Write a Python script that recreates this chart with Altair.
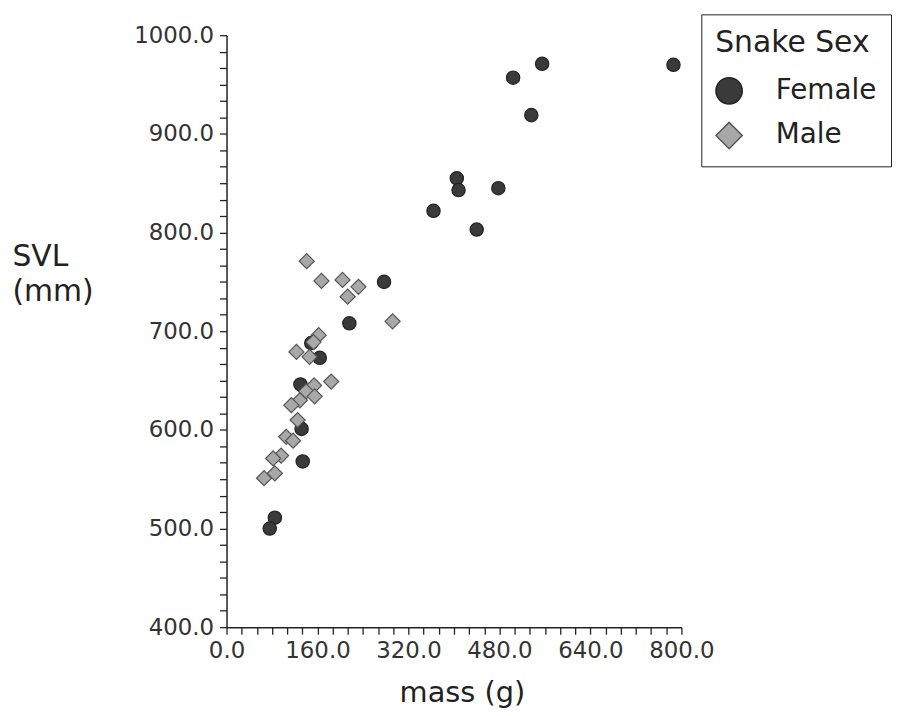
import altair as alt
import pandas as pd

# Values
female_mass = [786, 555, 504, 536, 405, 408, 478, 364, 440, 277, 216, 164, 149, 130, 132, 134, 85, 76]
female_svl = [970, 971, 957, 919, 855, 843, 845, 822, 803, 750, 708, 673, 688, 646, 601, 568, 511, 500]

male_mass = [141, 167, 204, 232, 213, 292, 162, 153, 123, 146, 184, 154, 140, 155, 129, 114, 125, 105, 117, 96, 82, 85, 66]
male_svl = [771, 751, 752, 745, 735, 710, 696, 689, 679, 674, 649, 645, 639, 634, 630, 625, 610, 593, 589, 574, 571, 556, 551]

sex_labels = ["Female", "Male"]

df = pd.DataFrame({
    "mass": female_mass + male_mass,
    "svl": female_svl + male_svl,
    "sex": [sex_labels[0]] * len(female_mass) + [sex_labels[1]] * len(male_mass),
})

x_ticks = [i * 160 / 6 for i in range(31)]
y_ticks = [400 + i * 100 / 6 for i in range(37)]

FONT = "DejaVu Sans"

x_axis = alt.Axis(
    values=x_ticks,
    labelExpr="datum.value % 160 == 0 ? format(datum.value, '.1f') : ''",
    title="mass (g)",
    grid=False,
    domainColor="#222222", domainWidth=1.5,
    tickColor="#222222", tickWidth=1.3, tickSize=7,
    labelFont=FONT, labelFontSize=23, labelColor="#333333", labelPadding=6,
    labelOverlap=False, labelFlush=False,
    titleFont=FONT, titleFontSize=29, titleFontWeight="normal", titleColor="#222222",
    titleBaseline="alphabetic", titleY=75, titleX=237, titleAlign="center",
)

y_axis = alt.Axis(
    values=y_ticks,
    labelExpr="datum.value % 100 == 0 ? format(datum.value, '.1f') : ''",
    title=["SVL", "(mm)"],
    grid=False,
    domainColor="#222222", domainWidth=1.5,
    tickColor="#222222", tickWidth=1.3, tickSize=7,
    labelFont=FONT, labelFontSize=23, labelColor="#333333", labelPadding=6,
    labelOverlap=False, labelFlush=False,
    titleFont=FONT, titleFontSize=30, titleFontWeight="normal", titleColor="#222222",
    titleAngle=0, titleAlign="left", titleBaseline="alphabetic",
    titleX=-216, titleY=232, titleLineHeight=35,
)

legend = alt.Legend(
    title="Snake Sex",
    orient="none", legendX=478, legendY=-21,
    strokeColor="#222222", fillColor="white", padding=14,
    titleFont=FONT, titleFontSize=30, titleFontWeight="normal", titleColor="#222222",
    titlePadding=19,
    labelFont=FONT, labelFontSize=28, labelColor="#222222", labelOffset=33,
    symbolSize=700, symbolStrokeWidth=1.5, rowPadding=11,
)

chart = alt.Chart(df).mark_point(filled=True, opacity=1, strokeWidth=1.2).encode(
    x=alt.X("mass:Q", scale=alt.Scale(domain=[0, 800], nice=False, zero=False), axis=x_axis),
    y=alt.Y("svl:Q", scale=alt.Scale(domain=[400, 1000], nice=False, zero=False), axis=y_axis),
    color=alt.Color("sex:N", scale=alt.Scale(domain=sex_labels, range=["#3a3a3a", "#a8a8a8"]), legend=legend),
    shape=alt.Shape("sex:N", scale=alt.Scale(domain=sex_labels, range=["circle", "diamond"]), legend=legend),
    stroke=alt.Stroke("sex:N", scale=alt.Scale(domain=sex_labels, range=["#222222", "#555555"]), legend=legend),
    size=alt.condition("datum.sex == 'Female'", alt.value(180), alt.value(230)),
).properties(
    width=458,
    height=596,
    autosize=alt.AutoSizeParams(type="none"),
    padding={"left": 220, "top": 25, "right": 213, "bottom": 85},
    background="white",
).configure_view(stroke=None)

chart.save("out.html", embed_options={"renderer": "svg", "actions": False})
